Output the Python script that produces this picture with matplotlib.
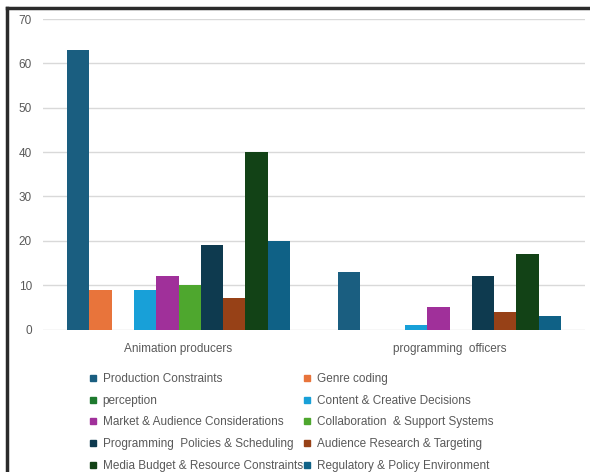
import matplotlib
matplotlib.use("Agg")
import matplotlib.pyplot as plt
import numpy as np
from matplotlib.lines import Line2D

categories = ["Animation producers", "programming  officers"]
series_names = [
    "Production Constraints",
    "Genre coding",
    "perception",
    "Content & Creative Decisions",
    "Market & Audience Considerations",
    "Collaboration  & Support Systems",
    "Programming  Policies & Scheduling",
    "Audience Research & Targeting",
    "Media Budget & Resource Constraints",
    "Regulatory & Policy Environment",
]
values = [
    [63, 13],
    [9, 0],
    [0, 0],
    [9, 1],
    [12, 5],
    [10, 0],
    [19, 12],
    [7, 4],
    [40, 17],
    [20, 3],
]
colors = [
    "#1a5e80", "#e8743b", "#1e7a2e", "#18a0d8", "#a0309a",
    "#4ea72e", "#0e3a4f", "#974117", "#124216", "#0f6186",
]
yticks = [0, 10, 20, 30, 40, 50, 60, 70]

plt.rcParams["font.family"] = ["Liberation Sans", "DejaVu Sans"]
W, H = 590, 472
fig = plt.figure(figsize=(W / 100, H / 100), dpi=100)
ax = fig.add_axes([43 / W, 1 - 329.5 / H, (585 - 43) / W, (329.5 - 19) / H])

n = len(series_names)
x = np.arange(len(categories))
group_w = 0.823
bw = group_w / n
for i, (name, vals, c) in enumerate(zip(series_names, values, colors)):
    offs = -group_w / 2 + bw * (i + 0.5)
    ax.bar(x + offs, vals, width=bw, color=c, label=name, linewidth=0, zorder=3)

ax.set_xlim(-0.5, len(categories) - 0.5)
ax.set_ylim(0, 70)
ax.set_yticks(yticks)
ax.set_xticks(x)
ax.set_xticklabels(categories)
ax.grid(axis="y", color="#d9d9d9", linewidth=1, zorder=0)
for s in ["top", "right", "left", "bottom"]:
    ax.spines[s].set_visible(False)
ax.tick_params(axis="both", length=0, colors="#595959", labelsize=8.5)
ax.tick_params(axis="y", pad=8)
ax.tick_params(axis="x", pad=10)

handles = [Line2D([0], [0], marker="s", linestyle="none", markersize=5,
                  markerfacecolor=c, markeredgecolor=c) for c in colors]
order = [0, 2, 4, 6, 8, 1, 3, 5, 7, 9]
leg = fig.legend([handles[i] for i in order], [series_names[i] for i in order],
                 ncol=2, loc="upper left", bbox_to_anchor=(89 / W, 1 - 373 / H),
                 frameon=False, fontsize=8.5, handlelength=0.6, handletextpad=0.55,
                 columnspacing=0.1, labelspacing=0.82, borderpad=0, borderaxespad=0)
for t in leg.get_texts():
    t.set_color("#595959")

# screenshot frame
fig.add_artist(Line2D([7 / W, 7 / W], [0, 1 - 8 / H], color="#2b2b2b", linewidth=2.5,
                      transform=fig.transFigure))
fig.add_artist(Line2D([7 / W, 1], [1 - 8 / H, 1 - 8 / H], color="#2b2b2b", linewidth=2.5,
                      transform=fig.transFigure))

fig.savefig("out.png", dpi=100)
